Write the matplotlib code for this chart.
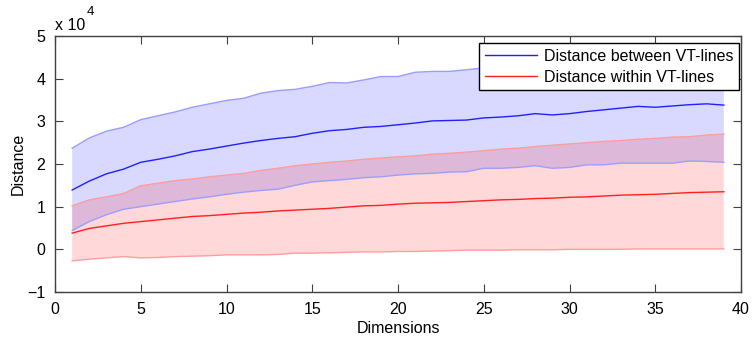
import numpy as np
import matplotlib
matplotlib.use("Agg")
import matplotlib.pyplot as plt

plt.rcParams['font.family'] = ['Liberation Sans', 'DejaVu Sans']
plt.rcParams['font.size'] = 11.5

# values in units of 10^4
dims = np.arange(1, 40)

between_mean = [1.39, 1.60, 1.77, 1.88, 2.04, 2.11, 2.19, 2.29, 2.35, 2.42,
                2.49, 2.55, 2.60, 2.64, 2.72, 2.78, 2.81, 2.86, 2.88, 2.92,
                2.96, 3.01, 3.02, 3.03, 3.08, 3.10, 3.13, 3.18, 3.15, 3.18,
                3.23, 3.27, 3.31, 3.35, 3.33, 3.36, 3.39, 3.41, 3.38]
between_upper = [2.37, 2.61, 2.77, 2.86, 3.04, 3.13, 3.22, 3.33, 3.41, 3.49,
                 3.54, 3.66, 3.72, 3.75, 3.82, 3.91, 3.90, 3.97, 4.05, 4.05,
                 4.15, 4.17, 4.17, 4.21, 4.25, 4.30, 4.34, 4.40, 4.40, 4.44,
                 4.48, 4.56, 4.60, 4.68, 4.64, 4.70, 4.71, 4.76, 4.72]
between_lower = [0.44, 0.65, 0.81, 0.94, 1.00, 1.06, 1.12, 1.18, 1.23, 1.29,
                 1.34, 1.38, 1.41, 1.50, 1.58, 1.61, 1.64, 1.68, 1.70, 1.74,
                 1.77, 1.78, 1.81, 1.82, 1.90, 1.90, 1.92, 1.96, 1.90, 1.92,
                 1.98, 1.98, 2.02, 2.02, 2.02, 2.02, 2.07, 2.06, 2.04]

within_mean = [0.38, 0.49, 0.55, 0.61, 0.65, 0.69, 0.73, 0.77, 0.79, 0.82,
               0.85, 0.87, 0.90, 0.92, 0.94, 0.96, 0.99, 1.02, 1.03, 1.06,
               1.08, 1.09, 1.10, 1.12, 1.14, 1.16, 1.17, 1.19, 1.20, 1.22,
               1.23, 1.25, 1.27, 1.28, 1.29, 1.31, 1.33, 1.34, 1.35]
within_upper = [1.02, 1.16, 1.23, 1.31, 1.49, 1.55, 1.61, 1.65, 1.70, 1.74,
                1.78, 1.85, 1.90, 1.96, 2.00, 2.04, 2.07, 2.11, 2.14, 2.17,
                2.19, 2.23, 2.25, 2.28, 2.31, 2.35, 2.37, 2.41, 2.44, 2.47,
                2.50, 2.53, 2.55, 2.58, 2.60, 2.63, 2.64, 2.68, 2.70]
within_lower = [-0.27, -0.23, -0.20, -0.17, -0.20, -0.19, -0.17, -0.16, -0.15, -0.13,
                -0.13, -0.13, -0.12, -0.09, -0.09, -0.08, -0.07, -0.06, -0.06, -0.05,
                -0.05, -0.04, -0.03, -0.02, -0.02, -0.02, -0.01, -0.01, -0.01, 0.00,
                0.00, 0.00, 0.00, 0.01, 0.01, 0.01, 0.01, 0.01, 0.01]

fig = plt.figure(figsize=(7.55, 3.4), dpi=100)
ax = fig.add_axes([55/755, 1-292/340, 686/755, 256/340])

# shaded bands (no vertical edges), then their light border lines
ax.fill_between(dims, between_lower, between_upper, facecolor=(0, 0, 1, 0.15), linewidth=0)
ax.fill_between(dims, within_lower, within_upper, facecolor=(1, 0, 0, 0.15), linewidth=0)
ax.plot(dims, between_upper, color='#9d9dff', linewidth=1)
ax.plot(dims, between_lower, color='#9d9dff', linewidth=1)
ax.plot(dims, within_upper, color='#ff9d9d', linewidth=1)
ax.plot(dims, within_lower, color='#ff9d9d', linewidth=1)

ax.plot(dims, between_mean, color='#2020ff', linewidth=1, label='Distance between VT-lines')
ax.plot(dims, within_mean, color='#ff2020', linewidth=1, label='Distance within VT-lines')

ax.set_xlim(0, 40)
ax.set_ylim(-1, 5)
ax.set_xticks(np.arange(0, 41, 5))
ax.set_yticks(np.arange(-1, 6, 1))
ax.tick_params(direction='in', length=6, top=True, right=True, color='#404040', pad=7)
for s in ax.spines.values():
    s.set_color('#404040')
    s.set_linewidth(1)

ax.set_xlabel('Dimensions', labelpad=3)
ax.set_ylabel('Distance', labelpad=1)

ax.text(0.0, 1.023, 'x 10', transform=ax.transAxes, ha='left', va='baseline')
ax.text(0.046, 1.082, '4', transform=ax.transAxes, ha='left', va='baseline', fontsize=9.5)

leg = ax.legend(loc='upper right', bbox_to_anchor=(0.997, 0.971), borderaxespad=0,
                fancybox=False, edgecolor='black', framealpha=1, handlelength=3.3,
                borderpad=0.35, labelspacing=0.35, handletextpad=0.4)
leg.get_frame().set_linewidth(1)

fig.savefig('out.png', dpi=100)
